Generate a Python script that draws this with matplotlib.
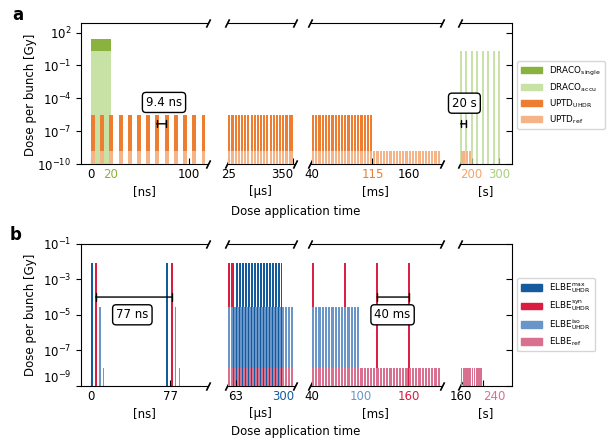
import matplotlib
matplotlib.use('Agg')
import matplotlib.pyplot as plt
from matplotlib.patches import Patch

# colours
c_dsingle = '#8ab23e'
c_daccu = '#c8e2a6'
c_uhdr = '#ed7d31'
c_uref = '#f5b487'
c_max = '#135b9c'
c_syn = '#d91c3f'
c_iso = '#6a95c9'
c_eref = '#d9708f'

# ---- panel a data ----
a_draco_t = [0]
a_draco_single = 28
a_draco_accu = 1.9
a_ns_t = [0, 9.4, 18.8, 28.2, 37.6, 47.0, 56.4, 65.8, 75.2, 84.6, 94.0, 103.4, 112.8]
a_us_t = [25, 41, 57, 73, 89, 105, 121, 137, 153, 169, 185, 201, 217, 233, 249,
          265, 281, 297, 313, 329, 342]
a_ms_uhdr_t = [40, 44, 48, 52, 56, 60, 64, 68, 72, 76, 80, 84, 88, 92, 96, 100,
               104, 108, 112]
a_ms_ref_t = [40, 44, 48, 52, 56, 60, 64, 68, 72, 76, 80, 84, 88, 92, 96, 100,
              104, 108, 112, 116, 120, 124, 128, 132, 136, 140, 144, 148, 152,
              156, 160, 164, 168, 172, 176, 180, 184, 188, 192, 196]
a_s_accu_t = [160, 180, 200, 220, 240, 260, 280, 300]
a_s_ref_t = [160, 170, 180, 190]
a_uhdr_dose = 2.7e-6
a_ref_dose = 1.5e-9

# ---- panel b data ----
b_ns_max_t = [0, 73.5]
b_ns_syn_t = [3.5, 77.5]
b_ns_iso_t = [8, 81.5]
b_ns_ref_t = [11.5, 85.5]
b_us_syn_t = [24, 41]
b_us_max_t = [63, 78, 93, 108, 123, 138, 153, 168, 183, 198, 213, 228, 243, 258,
              273, 288]
b_us_iso_t = [24, 39, 54, 69, 84, 99, 114, 129, 144, 159, 174, 189, 204, 219,
              234, 249, 264, 279, 294, 309, 324, 339]
b_ms_syn_t = [40.8, 80.8, 120.8, 160.8]
b_ms_iso_t = [40, 44, 48, 52, 56, 60, 64, 68, 72, 76, 80, 84, 88, 92, 96]
b_ms_ref_t = a_ms_ref_t
b_s_ref_t = [160, 168, 176, 184, 192, 200, 208, 216, 224, 232]
b_max_dose = 8.7e-3
b_syn_dose = 8.7e-3
b_iso_dose = 2.6e-5
b_ref_dose = 1.0e-8

W, H = 611.0, 441.0
cols = [(81, 208), (226.7, 295), (310, 441.7), (460, 511.7)]
a_xlims = [(-10.2, 119.4), (17, 361), (37.5, 201), (157.5, 346)]
b_xlims = [(-9.7, 114), (17, 361), (37.5, 201), (157.5, 346)]

plt.rcParams['font.size'] = 8.5
fig = plt.figure(figsize=(6.11, 4.41), dpi=100)


def make_row(top, bottom, xlims, ylim):
    axs = []
    for (l, r), xl in zip(cols, xlims):
        ax = fig.add_axes([l / W, 1 - bottom / H, (r - l) / W, (bottom - top) / H])
        ax.set_yscale('log')
        ax.set_xlim(xl)
        ax.set_ylim(ylim)
        ax.tick_params(axis='x', direction='in', length=4, pad=3)
        ax.minorticks_off()
        axs.append(ax)
    for i, ax in enumerate(axs):
        if i > 0:
            ax.spines['left'].set_visible(False)
        if i < 3:
            ax.spines['right'].set_visible(False)
        if 0 < i < 3:
            ax.tick_params(axis='y', left=False, labelleft=False)
    axs[3].tick_params(axis='y', left=False, labelleft=False, right=True,
                       labelright=False, direction='in', length=4)
    # break marks
    kw = dict(marker=[(-0.5, -1), (0.5, 1)], markersize=6, linestyle='none',
              color='k', mec='k', mew=1.2, clip_on=False)
    for i in range(3):
        axs[i].plot([1, 1], [0, 1], transform=axs[i].transAxes, **kw)
        axs[i + 1].plot([0, 0], [0, 1], transform=axs[i + 1].transAxes, **kw)
    return axs


def bars(ax, t, width, top, color, z=2):
    ax.bar(t, [top - 1e-13] * len(t), width=width, bottom=1e-13, align='edge',
           color=color, linewidth=0, zorder=z)


def lines(ax, t, top, color, lw, z=2):
    ax.vlines(t, 1e-13, top, colors=color, linewidth=lw, zorder=z)


def tick_colors(ax, colors):
    for lab, c in zip(ax.get_xticklabels(), colors):
        lab.set_color(c)


def bracket(ax, x0, x1, y, w=0.3):
    ax.annotate('', xy=(x0, y), xytext=(x1, y),
                arrowprops=dict(arrowstyle='|-|,widthA=%g,widthB=%g' % (w, w),
                                lw=1, color='k', shrinkA=0, shrinkB=0),
                annotation_clip=False, zorder=8)


def box(ax, x, y, s):
    ax.text(x, y, s, ha='center', va='center', fontsize=8.5, zorder=9,
            clip_on=False,
            bbox=dict(boxstyle='round,pad=0.3', fc='white', ec='k', lw=1))


# ================= panel a =================
ax = make_row(23, 164, a_xlims, (1e-10, 10 ** 2.88))
ax[0].set_yticks([1e2, 1e-1, 1e-4, 1e-7, 1e-10])

bars(ax[0], a_draco_t, 20, a_draco_single, c_dsingle, 1)
bars(ax[0], a_draco_t, 20, a_draco_accu, c_daccu, 1.5)
bars(ax[0], a_ns_t, 4, a_uhdr_dose, c_uhdr)
bars(ax[0], a_ns_t, 4, a_ref_dose, c_uref, 3)
bracket(ax[0], 67, 76.4, 4.7e-7)
box(ax[0], 74.5, 4.2e-5, '9.4 ns')

bars(ax[1], a_us_t, 10.5, a_uhdr_dose, c_uhdr)
bars(ax[1], a_us_t, 10.5, a_ref_dose, c_uref, 3)

bars(ax[2], a_ms_uhdr_t, 2.7, a_uhdr_dose, c_uhdr)
bars(ax[2], a_ms_ref_t, 2.7, a_ref_dose, c_uref, 3)

lines(ax[3], a_s_accu_t, a_draco_accu, '#b9da92', 1.1)
bars(ax[3], a_s_ref_t, 7, a_ref_dose, c_uref, 3)
bracket(ax[3], 160, 180, 4.7e-7)
box(ax[3], 173.5, 3.6e-5, '20 s')

ax[0].set_xticks([0, 20, 100])
tick_colors(ax[0], ['k', c_dsingle, 'k'])
ax[1].set_xticks([25, 350])
ax[1].get_xticklabels()[1].set_ha('right')
ax[2].set_xticks([40, 115, 160])
tick_colors(ax[2], ['k', c_uhdr, 'k'])
ax[3].set_xticks([200, 300])
tick_colors(ax[3], ['#f4a46c', '#a8cf7a'])
for a_, u in zip(ax, ['[ns]', '[µs]', '[ms]', '[s]']):
    a_.set_xlabel(u, labelpad=3)
ax[0].set_ylabel('Dose per bunch [Gy]')
ax[0].yaxis.set_label_coords(-0.35, 0.49)

fig.legend(handles=[Patch(color=c_dsingle, label='DRACO$_\\mathregular{single}$'),
                    Patch(color=c_daccu, label='DRACO$_\\mathregular{accu}$'),
                    Patch(color=c_uhdr, label='UPTD$_\\mathregular{UHDR}$'),
                    Patch(color=c_uref, label='UPTD$_\\mathregular{ref}$')],
           loc='upper left', bbox_to_anchor=(517 / W, 1 - 61 / H), fontsize=6.3,
           handlelength=2.5, handleheight=0.8, labelspacing=0.4,
           borderaxespad=0, fancybox=True, edgecolor='#cccccc')
fig.text(295.5 / W, 1 - 212 / H, 'Dose application time', ha='center',
         va='center', fontsize=8.5)
fig.text(18 / W, 1 - 15 / H, 'a', ha='center', va='center', fontsize=12,
         fontweight='bold')

# ================= panel b =================
bx = make_row(243.8, 385.8, b_xlims, (1e-9, 1e-1))
bx[0].set_yticks([1e-1, 1e-3, 1e-5, 1e-7, 1e-9])

bars(bx[0], b_ns_max_t, 2, b_max_dose, c_max)
bars(bx[0], b_ns_syn_t, 2, b_syn_dose, c_syn)
bars(bx[0], b_ns_iso_t, 1.5, b_iso_dose, c_iso)
bars(bx[0], b_ns_ref_t, 1.5, b_ref_dose, c_eref)
bracket(bx[0], 4.5, 78.5, 1e-4, 0.35)
box(bx[0], 40.3, 1e-5, '77 ns')

bars(bx[1], b_us_syn_t, 12, b_syn_dose, c_syn, 1)
bars(bx[1], b_us_max_t, 10, b_max_dose, c_max, 1)
bars(bx[1], b_us_iso_t, 10, b_iso_dose, c_iso, 2)
bars(bx[1], b_us_iso_t, 10, b_ref_dose, c_eref, 3)

lines(bx[2], b_ms_syn_t, b_syn_dose, c_syn, 1.4, 1)
bars(bx[2], b_ms_iso_t, 2.7, b_iso_dose, c_iso, 2)
bars(bx[2], b_ms_ref_t, 2.7, b_ref_dose, c_eref, 3)
bracket(bx[2], 120.8, 160.8, 1e-4, 0.35)
box(bx[2], 140, 1e-5, '40 ms')

bars(bx[3], b_s_ref_t, 6, b_ref_dose, c_eref)

bx[0].set_xticks([0, 77])
bx[1].set_xticks([63, 300])
tick_colors(bx[1], ['k', c_max])
bx[2].set_xticks([40, 100, 160])
tick_colors(bx[2], ['k', c_iso, c_syn])
bx[3].set_xticks([160, 240])
tick_colors(bx[3], ['k', c_eref])
bx[3].get_xticklabels()[1].set_ha('left')
bx[0].get_yticklabels()[-1].set_va('bottom')
for a_, u in zip(bx, ['[ns]', '[µs]', '[ms]', '[s]']):
    a_.set_xlabel(u, labelpad=3)
bx[0].set_ylabel('Dose per bunch [Gy]')
bx[0].yaxis.set_label_coords(-0.35, 0.5)

fig.legend(handles=[Patch(color=c_max, label='ELBE$_\\mathregular{UHDR}^\\mathregular{max}$'),
                    Patch(color=c_syn, label='ELBE$_\\mathregular{UHDR}^\\mathregular{syn}$'),
                    Patch(color=c_iso, label='ELBE$_\\mathregular{UHDR}^\\mathregular{iso}$'),
                    Patch(color=c_eref, label='ELBE$_\\mathregular{ref}$')],
           loc='upper left', bbox_to_anchor=(517 / W, 1 - 278 / H), fontsize=6.3,
           handlelength=2.5, handleheight=0.8, labelspacing=0.4,
           borderaxespad=0, fancybox=True, edgecolor='#cccccc')
fig.text(295.5 / W, 1 - 432 / H, 'Dose application time', ha='center',
         va='center', fontsize=8.5)
fig.text(16 / W, 1 - 235 / H, 'b', ha='center', va='center', fontsize=12,
         fontweight='bold')

fig.savefig('out.png', dpi=100)
